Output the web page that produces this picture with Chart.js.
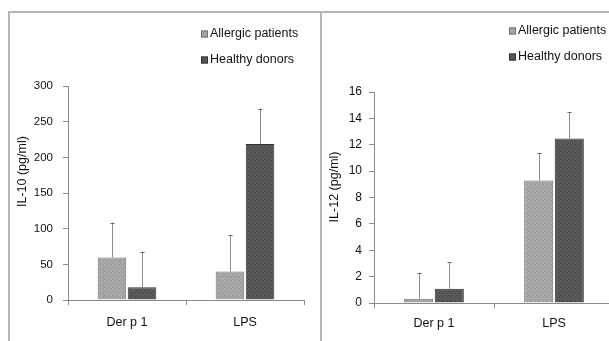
<!DOCTYPE html>
<html>
<head>
<meta charset="utf-8">
<script src="https://cdn.jsdelivr.net/npm/chart.js@4.4.1/dist/chart.umd.min.js"></script>
<style>
  html, body { margin: 0; padding: 0; background: #fff; overflow: hidden; }
  body { width: 609px; height: 341px; position: relative; }
  .frame { position: absolute; left: 8px; top: 11px; width: 640px; height: 340px;
           border-top: 2px solid #b4b4b4; border-left: 2px solid #b4b4b4; }
  .divider { position: absolute; left: 320px; top: 11px; width: 2px; height: 340px; background: #b4b4b4; }
  canvas { position: absolute; }
</style>
</head>
<body>
<div class="frame"></div>
<div class="divider"></div>
<canvas id="il10" width="310" height="328" style="left:10px; top:13px;"></canvas>
<canvas id="il12" width="300" height="328" style="left:322px; top:13px;"></canvas>
<script>
const categories = ["Der p 1", "LPS"];
const seriesLabels = ["Allergic patients", "Healthy donors"];

// IL-10 (pg/ml), mean and upper SD
const il10Allergic = [59.5, 39.8];
const il10AllergicSd = [49, 51];
const il10Healthy = [17.8, 218.7];
const il10HealthySd = [50, 49.5];

// IL-12 (pg/ml)
const il12Allergic = [0.33, 9.28];
const il12AllergicSd = [1.97, 2.08];
const il12Healthy = [1.09, 12.47];
const il12HealthySd = [2.0, 1.98];

const FONT = "'Liberation Sans', Arial, sans-serif";
const AXIS = "#8a8a8a";
const TEXT = "#111";

function makePattern(base, dot) {
  const c = document.createElement("canvas");
  c.width = 4;
  c.height = 4;
  const g = c.getContext("2d");
  g.fillStyle = base;
  g.fillRect(0, 0, 4, 4);
  g.fillStyle = dot;
  g.fillRect(0, 0, 1, 1);
  g.fillRect(2, 2, 1, 1);
  g.fillRect(1, 3, 1, 1);
  return g.createPattern(c, "repeat");
}

const lightFill = makePattern("#a9a9a9", "#959595");
const darkFill = makePattern("#5a5a5a", "#474747");

// upper error whiskers, drawn from the bar tops via the y scale
const errorBars = {
  id: "errorBars",
  afterDatasetsDraw(chart) {
    const { ctx } = chart;
    const y = chart.scales.y;
    ctx.save();
    chart.data.datasets.forEach((ds, i) => {
      const meta = chart.getDatasetMeta(i);
      meta.data.forEach((bar, j) => {
        const top = y.getPixelForValue(ds.data[j] + ds.sd[j]);
        const x = Math.round(bar.x) + 0.5;
        ctx.strokeStyle = "#8c8c8c";
        ctx.lineWidth = 1;
        ctx.beginPath();
        ctx.moveTo(x, bar.y);
        ctx.lineTo(x, top);
        ctx.stroke();
        ctx.strokeStyle = "#666";
        ctx.beginPath();
        ctx.moveTo(x - 2, Math.round(top) + 0.5);
        ctx.lineTo(x + 2, Math.round(top) + 0.5);
        ctx.stroke();
      });
    });
    ctx.restore();
  },
};

// stacked legend at the top right + rotated y title
const extras = {
  id: "extras",
  afterDraw(chart, args, opts) {
    const { ctx, chartArea } = chart;
    ctx.save();
    ctx.font = "12.5px " + FONT;
    ctx.textBaseline = "middle";
    chart.data.datasets.forEach((ds, i) => {
      const yy = opts.legendY + i * opts.legendGap;
      ctx.fillStyle = ds.backgroundColor;
      ctx.fillRect(opts.legendX, yy - 3.5, 7, 7);
      ctx.strokeStyle = ds.borderColor;
      ctx.lineWidth = 1;
      ctx.strokeRect(opts.legendX + 0.5, yy - 3, 6, 6);
      ctx.fillStyle = TEXT;
      ctx.textAlign = "left";
      ctx.fillText(ds.label, opts.legendX + 9, yy);
    });
    ctx.translate(opts.titleX, chartArea.top + opts.titleFrac * (chartArea.bottom - chartArea.top));
    ctx.rotate(-Math.PI / 2);
    ctx.textAlign = "center";
    ctx.fillStyle = TEXT;
    ctx.fillText(opts.title, 0, 0);
    ctx.restore();
  },
};

function makeChart(id, allergic, allergicSd, healthy, healthySd, cfg) {
  return new Chart(document.getElementById(id), {
    type: "bar",
    data: {
      labels: categories,
      datasets: [
        {
          label: seriesLabels[0],
          data: allergic,
          sd: allergicSd,
          backgroundColor: lightFill,
          borderColor: "#707070",
          borderWidth: 1,
          categoryPercentage: 0.51,
          barPercentage: 0.95,
        },
        {
          label: seriesLabels[1],
          data: healthy,
          sd: healthySd,
          backgroundColor: darkFill,
          borderColor: "#333",
          borderWidth: 1,
          categoryPercentage: 0.51,
          barPercentage: 0.95,
        },
      ],
    },
    options: {
      responsive: false,
      animation: false,
      events: [],
      layout: { padding: { top: cfg.padTop, right: cfg.padRight, left: 0, bottom: 0 } },
      scales: {
        x: {
          afterFit(scale) { scale.height = cfg.xHeight; },
          grid: { drawOnChartArea: false, tickLength: 5, color: AXIS, offset: true },
          border: { color: AXIS },
          ticks: { color: TEXT, padding: cfg.xPad, font: { family: FONT, size: 12.5 } },
        },
        y: {
          min: 0,
          max: cfg.max,
          afterFit(scale) { scale.width = cfg.yWidth; },
          grid: { drawOnChartArea: false, tickLength: 5, color: AXIS },
          border: { color: AXIS },
          ticks: { stepSize: cfg.step, color: TEXT, padding: cfg.yPad, font: { family: FONT, size: cfg.yFont } },
        },
      },
      plugins: {
        legend: { display: false },
        tooltip: { enabled: false },
        extras: cfg.extras,
      },
    },
    plugins: [errorBars, extras],
  });
}

makeChart("il10", il10Allergic, il10AllergicSd, il10Healthy, il10HealthySd, {
  padTop: 73, padRight: 16, xHeight: 41, yWidth: 58, xPad: 10, yPad: 10, yFont: 11.5,
  max: 300, step: 50,
  extras: { legendX: 191, legendY: 21, legendGap: 26, titleX: 13, titleFrac: 0.4, title: "IL-10 (pg/ml)" },
});

makeChart("il12", il12Allergic, il12AllergicSd, il12Healthy, il12HealthySd, {
  padTop: 79, padRight: 8, xHeight: 38, yWidth: 52, xPad: 8, yPad: 7, yFont: 12,
  max: 16, step: 2,
  extras: { legendX: 187, legendY: 18, legendGap: 26, titleX: 13, titleFrac: 0.45, title: "IL-12 (pg/ml)" },
});
</script>
</body>
</html>
